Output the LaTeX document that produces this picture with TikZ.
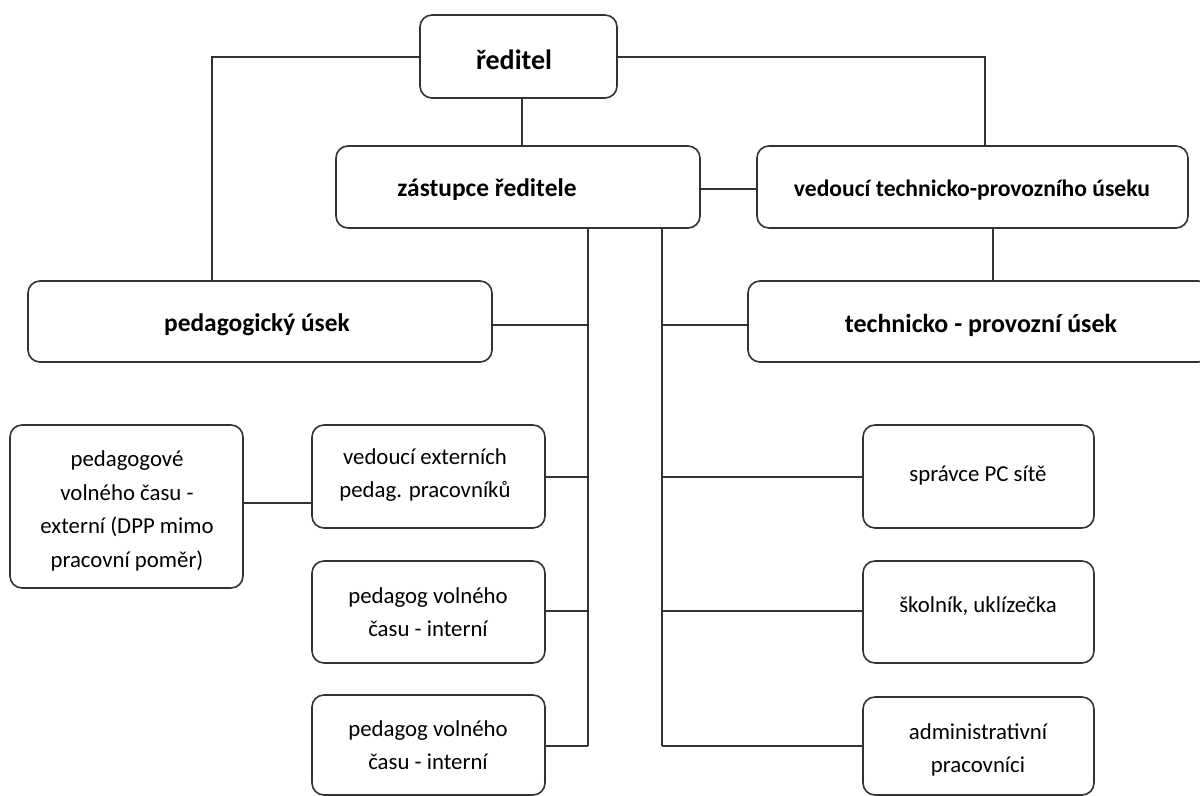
\documentclass[tikz,border=0pt]{standalone}
\usepackage{fontspec}
\setmainfont{Carlito}
\begin{document}
\begin{tikzpicture}[x=0.5pt,y=-0.5pt,
  box/.style={draw=black!80,line width=0.8pt,rounded corners=6pt},
  conn/.style={draw=black!80,line width=0.7pt},
  big/.style={font=\fontsize{12.7}{15}\selectfont\bfseries},
  mid/.style={font=\fontsize{11.8}{14}\selectfont\bfseries},
  small/.style={font=\fontsize{11.4}{16.8}\selectfont,align=center}]
\clip (0,0) rectangle (1200,796);
\fill[white] (0,0) rectangle (1200,796);
% boxes
\draw[box] (420,15) rectangle (617,98);
\node[font=\fontsize{14}{16}\selectfont\bfseries] (t1) at (514,60) {ředitel};
\draw[box] (336,146) rectangle (700,228);
\node[big] (t2) at (487,190) {zástupce ředitele};
\draw[box] (757,146) rectangle (1188,228);
\node[mid] (t3) at (972,190) {vedoucí technicko-provozního úseku};
\draw[box] (28,281) rectangle (492,362);
\node[big] (t4) at (257,325) {pedagogický úsek};
\draw[box] (748,281) rectangle (1210,362);
\node[font=\fontsize{13}{15}\selectfont\bfseries] (t5) at (981,325) {technicko - provozní úsek};
\draw[box] (10,425) rectangle (243,588);
\node[small] (t6) at (127,511) {pedagogové\\volného času -\\externí (DPP mimo\\pracovní poměr)};
\draw[box] (312,425) rectangle (545,528);
\node[small] (t7) at (425,475) {vedoucí externích\\pedag. pracovníků};
\draw[box] (312,561) rectangle (545,663);
\node[small] (t8) at (428,612) {pedagog volného\\času - interní};
\draw[box] (312,695) rectangle (545,795);
\node[small] (t9) at (428,745) {pedagog volného\\času - interní};
\draw[box] (863,425) rectangle (1094,528);
\node[small] (t10) at (978,476) {správce PC sítě};
\draw[box] (863,561) rectangle (1094,663);
\node[small] (t11) at (978,606) {školník, uklízečka};
\draw[box] (863,697) rectangle (1094,795);
\node[small] (t12) at (978,750) {administrativní\\pracovníci};
% connectors
\draw[conn] (420,57) -| (212,281);
\draw[conn] (617,57) -| (985,146);
\draw[conn] (522,98) -- (522,146);
\draw[conn] (700,189) -- (757,189);
\draw[conn] (993,228) -- (993,281);
\draw[conn] (588,228) -- (588,746);
\draw[conn] (662,228) -- (662,746);
\draw[conn] (492,325) -- (588,325);
\draw[conn] (545,477) -- (588,477);
\draw[conn] (545,611) -- (588,611);
\draw[conn] (545,746) -- (588,746);
\draw[conn] (662,325) -- (748,325);
\draw[conn] (662,477) -- (863,477);
\draw[conn] (662,611) -- (863,611);
\draw[conn] (662,746) -- (863,746);
\draw[conn] (243,503) -- (312,503);
\end{tikzpicture}
\end{document}
